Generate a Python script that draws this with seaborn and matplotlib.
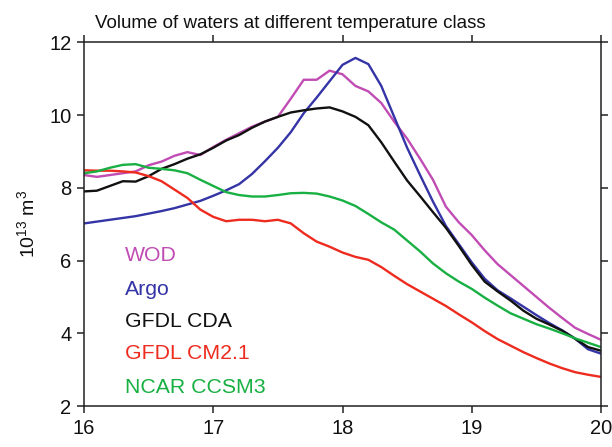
import numpy as np
import pandas as pd
import seaborn as sns
import matplotlib
matplotlib.use("Agg")
import matplotlib.pyplot as plt

# Temperature classes (deg C)
temperature = [16.0, 16.1, 16.2, 16.3, 16.4, 16.5, 16.6, 16.7, 16.8, 16.9,
               17.0, 17.1, 17.2, 17.3, 17.4, 17.5, 17.6, 17.7, 17.8, 17.9,
               18.0, 18.1, 18.2, 18.3, 18.4, 18.5, 18.6, 18.7, 18.8, 18.9,
               19.0, 19.1, 19.2, 19.3, 19.4, 19.5, 19.6, 19.7, 19.8, 19.9,
               20.0]

# Volume of water in each class (10^13 m^3)
wod = [8.35, 8.30, 8.35, 8.40, 8.45, 8.62, 8.72, 8.88, 8.98, 8.90,
       9.12, 9.32, 9.50, 9.68, 9.82, 9.95, 10.45, 10.97, 10.97, 11.22,
       11.12, 10.80, 10.65, 10.33, 9.82, 9.35, 8.80, 8.22, 7.48, 7.05,
       6.70, 6.28, 5.90, 5.60, 5.30, 5.00, 4.70, 4.42, 4.15, 3.98,
       3.82]
argo = [7.02, 7.07, 7.12, 7.17, 7.22, 7.29, 7.36, 7.44, 7.54, 7.64,
        7.78, 7.93, 8.10, 8.38, 8.73, 9.10, 9.53, 10.05, 10.48, 10.93,
        11.38, 11.57, 11.40, 10.80, 9.95, 9.10, 8.35, 7.62, 6.95, 6.45,
        5.95, 5.50, 5.18, 4.96, 4.73, 4.50, 4.28, 4.08, 3.85, 3.56,
        3.44]
gfdl_cda = [7.90, 7.92, 8.05, 8.18, 8.17, 8.32, 8.52, 8.65, 8.80, 8.92,
            9.10, 9.30, 9.45, 9.65, 9.82, 9.95, 10.07, 10.13, 10.18, 10.21,
            10.10, 9.95, 9.72, 9.25, 8.72, 8.20, 7.77, 7.33, 6.90, 6.40,
            5.88, 5.42, 5.15, 4.90, 4.62, 4.40, 4.24, 4.07, 3.85, 3.62,
            3.52]
gfdl_cm21 = [8.48, 8.47, 8.47, 8.45, 8.42, 8.32, 8.18, 7.95, 7.72, 7.40,
             7.20, 7.08, 7.12, 7.12, 7.08, 7.12, 7.02, 6.75, 6.52, 6.38,
             6.22, 6.10, 6.02, 5.82, 5.58, 5.35, 5.15, 4.95, 4.75, 4.52,
             4.30, 4.06, 3.84, 3.66, 3.48, 3.32, 3.17, 3.04, 2.93, 2.86,
             2.80]
ncar_ccsm3 = [8.40, 8.45, 8.55, 8.63, 8.65, 8.55, 8.52, 8.48, 8.40, 8.22,
              8.05, 7.88, 7.80, 7.76, 7.76, 7.80, 7.85, 7.86, 7.84, 7.76,
              7.65, 7.50, 7.28, 7.05, 6.85, 6.55, 6.25, 5.92, 5.65, 5.42,
              5.22, 4.98, 4.76, 4.55, 4.40, 4.25, 4.13, 4.00, 3.86, 3.74,
              3.62]

names = ["WOD", "Argo", "GFDL CDA", "GFDL CM2.1", "NCAR CCSM3"]
series = [wod, argo, gfdl_cda, gfdl_cm21, ncar_ccsm3]
colors = ["#c04cb4", "#3434a6", "#111111", "#ee2b1f", "#19b043"]

x_ticks = [16, 17, 18, 19, 20]
y_ticks = [2, 4, 6, 8, 10, 12]

df = pd.concat(
    [pd.DataFrame({"temperature": temperature, "volume": vals, "dataset": name})
     for name, vals in zip(names, series)],
    ignore_index=True,
)

sns.set_theme(style="ticks")
plt.rcParams["font.family"] = ["Liberation Sans", "DejaVu Sans"]
plt.rcParams["mathtext.fontset"] = "custom"
plt.rcParams["mathtext.rm"] = "Liberation Sans"
plt.rcParams["mathtext.it"] = "Liberation Sans"

fig = plt.figure(figsize=(6.12, 4.47), dpi=100)
ax = fig.add_axes([0.1373, 0.0917, 0.8447, 0.8137])

sns.lineplot(data=df, x="temperature", y="volume", hue="dataset",
             palette=dict(zip(names, colors)), hue_order=names,
             linewidth=1.7, legend=False, ax=ax)

ax.set_xlim(16, 20)
ax.set_ylim(2, 12)
ax.set_xticks(x_ticks)
ax.set_yticks(y_ticks)
ax.set_xticklabels([str(t) for t in x_ticks])
ax.set_yticklabels([str(t) for t in y_ticks])
ax.set_xlabel("")
ax.set_ylabel(r"10$^{13}$ m$^{3}$", fontsize=14, color="#111111", labelpad=8)

for side in ["top", "right", "bottom", "left"]:
    ax.spines[side].set_visible(True)
    ax.spines[side].set_color("#222222")
    ax.spines[side].set_linewidth(1.1)

ax.tick_params(axis="both", which="major", direction="out", length=5,
               width=1.1, color="#222222", labelsize=14.5, labelcolor="#111111",
               top=True, right=True, labeltop=False, labelright=False, pad=4)

ax.set_title("Volume of waters at different temperature class",
             fontsize=13.5, color="#111111", pad=10, x=0.40)

# Coloured series labels
label_y = [0.415, 0.319, 0.231, 0.143, 0.050]
for name, color, yy in zip(names, colors, label_y):
    ax.text(0.079, yy, name, color=color, fontsize=15.3,
            transform=ax.transAxes, ha="left", va="center")

fig.savefig("out.png", dpi=100)
